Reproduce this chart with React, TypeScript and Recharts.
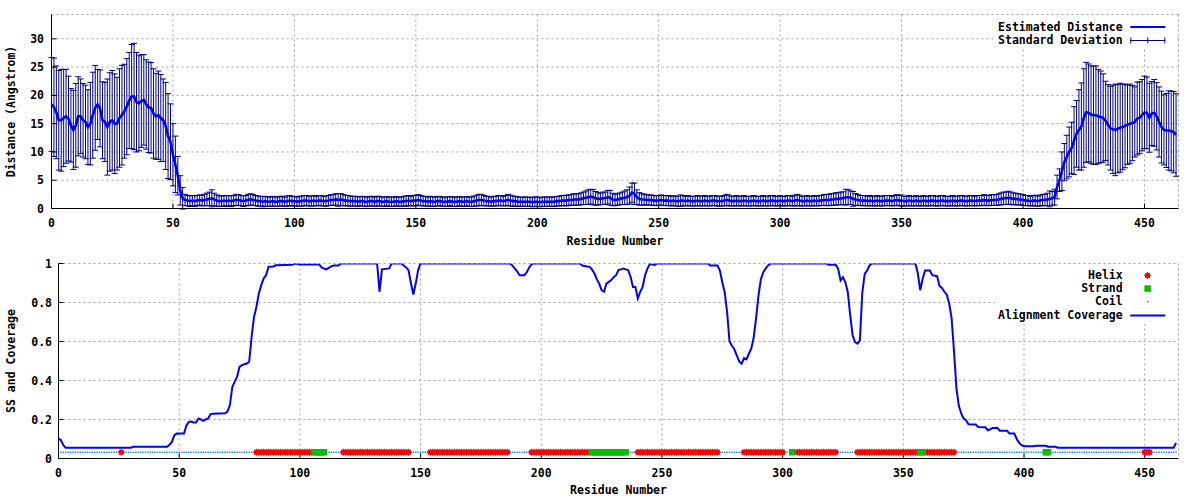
import React from 'react';
import {
  LineChart,
  Line,
  XAxis,
  YAxis,
  CartesianGrid,
  ErrorBar,
  ComposedChart,
  Scatter,
  Legend,
  Label,
} from 'recharts';

const FONT = '"DejaVu Sans Mono", "Liberation Mono", monospace';

// ---------------- data ----------------
const residueCount = 464;
const residueTicks = [0, 50, 100, 150, 200, 250, 300, 350, 400, 450];
const distanceTicks = [0, 5, 10, 15, 20, 25, 30];
const coverageTicks = [0, 0.2, 0.4, 0.6, 0.8, 1];

// estimated distance per residue (Angstrom), residues 0..463
const distMean = [
  18.4, 17.9, 17.0, 15.6, 15.6, 16.0, 16.3, 15.9, 14.7, 13.9,
  14.7, 16.3, 16.3, 15.6, 15.3, 14.4, 15.0, 16.5, 17.8, 18.4,
  17.7, 15.6, 15.3, 14.4, 15.3, 15.6, 15.0, 15.0, 16.0, 16.5,
  17.2, 18.0, 19.1, 19.8, 19.8, 18.8, 18.6, 19.0, 19.2, 18.4,
  17.9, 17.8, 16.8, 16.3, 16.5, 16.0, 15.6, 14.6, 12.8, 11.8,
  9.5, 7.8, 5.8, 3.2, 1.8, 1.5, 1.4, 1.3, 1.4, 1.3,
  1.4, 1.5, 1.4, 1.5, 1.6, 1.7, 1.8, 1.6, 1.4, 1.3,
  1.3, 1.4, 1.3, 1.4, 1.3, 1.4, 1.5, 1.5, 1.4, 1.3,
  1.4, 1.5, 1.6, 1.5, 1.4, 1.3, 1.3, 1.2, 1.3, 1.2,
  1.2, 1.3, 1.2, 1.2, 1.3, 1.3, 1.2, 1.3, 1.4, 1.3,
  1.3, 1.2, 1.3, 1.3, 1.4, 1.4, 1.3, 1.3, 1.4, 1.3,
  1.4, 1.4, 1.3, 1.3, 1.4, 1.5, 1.5, 1.6, 1.5, 1.6,
  1.5, 1.4, 1.4, 1.3, 1.3, 1.3, 1.2, 1.3, 1.3, 1.2,
  1.2, 1.3, 1.3, 1.2, 1.3, 1.3, 1.2, 1.2, 1.3, 1.2,
  1.2, 1.2, 1.3, 1.2, 1.2, 1.3, 1.3, 1.4, 1.3, 1.4,
  1.4, 1.5, 1.4, 1.3, 1.3, 1.2, 1.3, 1.2, 1.2, 1.3,
  1.3, 1.2, 1.2, 1.2, 1.3, 1.2, 1.2, 1.2, 1.3, 1.2,
  1.2, 1.3, 1.2, 1.2, 1.3, 1.4, 1.5, 1.5, 1.4, 1.3,
  1.3, 1.2, 1.3, 1.3, 1.4, 1.4, 1.3, 1.4, 1.5, 1.4,
  1.3, 1.3, 1.2, 1.2, 1.2, 1.2, 1.2, 1.2, 1.1, 1.2,
  1.2, 1.1, 1.2, 1.2, 1.2, 1.2, 1.2, 1.2, 1.3, 1.3,
  1.4, 1.4, 1.4, 1.5, 1.5, 1.6, 1.6, 1.6, 1.7, 1.8,
  1.9, 2.0, 2.1, 2.0, 1.8, 1.7, 1.7, 1.8, 1.8, 2.0,
  1.9, 1.6, 1.5, 1.6, 1.7, 1.8, 1.9, 2.0, 2.3, 2.8,
  2.6, 2.0, 1.7, 1.6, 1.6, 1.5, 1.5, 1.5, 1.4, 1.4,
  1.4, 1.5, 1.4, 1.4, 1.4, 1.3, 1.4, 1.3, 1.3, 1.4,
  1.4, 1.3, 1.4, 1.3, 1.3, 1.3, 1.4, 1.3, 1.3, 1.4,
  1.3, 1.3, 1.4, 1.4, 1.3, 1.3, 1.3, 1.4, 1.5, 1.4,
  1.3, 1.3, 1.4, 1.3, 1.3, 1.4, 1.3, 1.3, 1.3, 1.4,
  1.3, 1.3, 1.3, 1.4, 1.3, 1.3, 1.4, 1.4, 1.3, 1.3,
  1.4, 1.3, 1.3, 1.4, 1.4, 1.3, 1.4, 1.5, 1.4, 1.3,
  1.3, 1.4, 1.3, 1.3, 1.4, 1.3, 1.4, 1.4, 1.5, 1.5,
  1.5, 1.6, 1.6, 1.7, 1.7, 1.8, 1.8, 2.0, 2.0, 1.9,
  1.7, 1.6, 1.5, 1.4, 1.4, 1.4, 1.3, 1.4, 1.3, 1.3,
  1.4, 1.3, 1.3, 1.4, 1.4, 1.4, 1.3, 1.4, 1.5, 1.4,
  1.4, 1.3, 1.3, 1.4, 1.3, 1.3, 1.4, 1.3, 1.3, 1.4,
  1.3, 1.3, 1.4, 1.4, 1.3, 1.3, 1.4, 1.4, 1.3, 1.3,
  1.3, 1.4, 1.3, 1.3, 1.4, 1.4, 1.3, 1.3, 1.4, 1.4,
  1.3, 1.4, 1.4, 1.4, 1.5, 1.4, 1.4, 1.5, 1.5, 1.5,
  1.6, 1.7, 1.8, 1.8, 1.9, 1.8, 1.7, 1.7, 1.6, 1.6,
  1.5, 1.4, 1.4, 1.3, 1.4, 1.4, 1.3, 1.4, 1.5, 1.5,
  1.6, 1.7, 1.8, 2.0, 3.8, 5.0, 6.6, 8.2, 9.1, 10.0,
  10.7, 12.0, 13.2, 13.9, 14.5, 16.0, 17.0, 16.9, 16.6, 16.5,
  16.5, 16.3, 16.2, 16.0, 15.5, 14.8, 14.2, 14.0, 13.9, 14.1,
  14.3, 14.4, 14.6, 14.8, 15.0, 15.1, 15.3, 15.9, 16.05, 16.5,
  17.0, 16.9, 16.05, 16.8, 16.9, 16.3, 15.3, 14.4, 13.9, 13.8,
  13.8, 13.7, 13.5, 13.0,
];

// standard deviation per residue
const distSd = [
  8.3, 8.7, 8.2, 8.8, 9.0, 8.6, 8.3, 7.5, 6.5, 7.0,
  7.4, 7.0, 6.6, 6.5, 6.5, 6.6, 7.3, 7.6, 7.5, 6.2,
  6.8, 6.8, 7.0, 8.5, 8.7, 8.8, 8.8, 8.2, 8.7, 8.8,
  8.3, 8.5, 8.5, 9.2, 9.4, 8.8, 8.4, 8.2, 8.0, 7.9,
  8.0, 8.0, 7.9, 7.6, 7.8, 7.7, 7.3, 7.7, 7.5, 6.7,
  5.5, 5.0, 3.4, 2.6, 1.9, 1.0, 0.9, 0.95, 0.9, 0.95,
  0.9, 0.9, 0.95, 1.0, 1.1, 1.2, 1.5, 1.1, 1.0, 0.95,
  0.9, 0.9, 0.95, 0.9, 0.95, 0.9, 1.0, 0.95, 0.9, 0.95,
  0.9, 1.0, 1.0, 0.95, 0.9, 0.9, 0.85, 0.9, 0.85, 0.85,
  0.8, 0.85, 0.85, 0.8, 0.85, 0.85, 0.8, 0.9, 0.9, 0.85,
  0.85, 0.8, 0.85, 0.9, 0.9, 0.9, 0.85, 0.9, 0.9, 0.85,
  0.9, 0.9, 0.85, 0.9, 0.9, 0.95, 0.95, 1.0, 1.1, 1.05,
  1.0, 0.95, 0.9, 0.9, 0.85, 0.85, 0.85, 0.8, 0.85, 0.85,
  0.8, 0.85, 0.85, 0.8, 0.85, 0.85, 0.8, 0.85, 0.8, 0.8,
  0.85, 0.8, 0.8, 0.8, 0.8, 0.85, 0.9, 0.9, 0.85, 0.9,
  0.95, 0.95, 0.9, 0.85, 0.85, 0.8, 0.85, 0.85, 0.8, 0.85,
  0.8, 0.8, 0.8, 0.85, 0.8, 0.85, 0.8, 0.85, 0.8, 0.8,
  0.85, 0.8, 0.8, 0.85, 0.9, 0.95, 1.0, 1.0, 0.9, 0.85,
  0.85, 0.8, 0.85, 0.85, 0.9, 0.9, 0.85, 0.9, 1.0, 0.95,
  0.9, 0.85, 0.85, 0.8, 0.8, 0.85, 0.8, 0.8, 0.8, 0.85,
  0.85, 0.8, 0.8, 0.85, 0.8, 0.85, 0.8, 0.85, 0.85, 0.85,
  0.9, 0.9, 0.95, 0.9, 0.95, 1.0, 1.0, 1.0, 1.05, 1.1,
  1.2, 1.3, 1.3, 1.35, 1.2, 1.1, 1.0, 1.1, 1.1, 1.2,
  1.3, 1.1, 1.0, 1.0, 1.05, 1.1, 1.2, 1.3, 1.5, 1.7,
  1.9, 1.3, 1.1, 1.0, 0.95, 0.9, 0.9, 0.9, 0.85, 0.9,
  0.85, 0.9, 0.9, 0.85, 0.9, 0.85, 0.85, 0.85, 0.9, 1.0,
  0.9, 0.85, 0.9, 0.85, 0.85, 0.85, 0.9, 0.85, 0.85, 0.9,
  0.85, 0.85, 0.9, 0.9, 0.85, 0.9, 0.85, 0.9, 1.0, 0.95,
  0.85, 0.85, 0.9, 0.85, 0.85, 0.9, 0.85, 0.85, 0.85, 0.9,
  0.85, 0.85, 0.85, 0.9, 0.85, 0.85, 0.9, 0.9, 0.85, 0.85,
  0.9, 0.85, 0.85, 0.9, 0.9, 0.85, 0.95, 1.0, 0.95, 0.85,
  0.85, 0.9, 0.85, 0.85, 0.9, 0.85, 0.9, 0.9, 0.95, 1.0,
  1.0, 1.05, 1.0, 1.1, 1.05, 1.1, 1.15, 1.4, 1.3, 1.2,
  1.3, 1.05, 0.95, 0.9, 0.9, 0.9, 0.85, 0.9, 0.85, 0.85,
  0.9, 0.85, 0.85, 0.9, 0.9, 0.9, 0.85, 0.9, 0.95, 0.9,
  1.0, 0.85, 0.85, 0.9, 0.85, 0.85, 0.9, 0.85, 0.85, 0.9,
  0.85, 0.85, 0.9, 0.9, 0.85, 0.85, 0.9, 0.9, 0.85, 0.85,
  0.85, 0.9, 0.85, 0.85, 0.9, 0.9, 0.85, 0.85, 0.9, 0.9,
  0.85, 0.9, 0.9, 0.9, 0.95, 0.9, 0.9, 0.95, 0.95, 0.95,
  1.0, 1.05, 1.1, 1.1, 1.15, 1.1, 1.05, 1.0, 1.0, 0.95,
  0.95, 0.9, 0.9, 0.85, 0.9, 0.95, 0.9, 0.95, 1.0, 1.0,
  1.1, 1.4, 1.2, 1.4, 2.1, 2.0, 3.4, 3.3, 3.85, 4.4,
  4.55, 6.0, 5.9, 7.1, 7.7, 8.7, 8.85, 8.65, 8.6, 8.7,
  8.7, 8.3, 8.1, 7.8, 7.0, 7.1, 7.4, 7.8, 8.1, 7.8,
  7.85, 7.55, 7.4, 7.0, 7.0, 6.65, 6.2, 6.45, 6.35, 6.3,
  6.4, 6.35, 6.1, 5.65, 5.9, 5.95, 6.2, 6.35, 6.2, 6.55,
  7.0, 7.05, 7.2, 7.3,
];

// alignment coverage: [residue, fraction]
const coveragePoints: [number, number][] = [
  [0, 0.103], [1, 0.094], [2, 0.068], [3, 0.055], [30, 0.055], [31, 0.06], [45, 0.06],
  [46, 0.07], [47, 0.085], [48, 0.12], [49, 0.128], [52, 0.128], [53, 0.17], [54, 0.188],
  [55, 0.19], [56, 0.185], [57, 0.185], [58, 0.205], [59, 0.2], [60, 0.193], [61, 0.2],
  [62, 0.205], [63, 0.227], [64, 0.23], [69, 0.232], [70, 0.24], [71, 0.273], [72, 0.367],
  [73, 0.393], [74, 0.42], [75, 0.47], [76, 0.479], [78, 0.487], [79, 0.496], [80, 0.624],
  [81, 0.726], [82, 0.778], [83, 0.846], [84, 0.889], [85, 0.923], [86, 0.94], [87, 0.983],
  [89, 0.985], [90, 0.991], [97, 0.993], [98, 1.0], [100, 0.995], [108, 0.995], [109, 0.98],
  [110, 0.974], [111, 0.97], [112, 0.978], [113, 0.985], [114, 0.99], [116, 0.99], [117, 1.0],
  [132, 1.0], [133, 0.855], [134, 0.97], [137, 0.975], [138, 1.0], [142, 1.0], [143, 0.99],
  [144, 0.98], [145, 0.966], [146, 0.9], [147, 0.841], [148, 0.897], [149, 0.966], [150, 1.0],
  [187, 1.0], [188, 0.99], [189, 0.975], [190, 0.96], [191, 0.94], [193, 0.94], [194, 0.955],
  [195, 0.98], [196, 0.997], [197, 1.0], [216, 1.0], [217, 0.99], [219, 0.985], [220, 0.983],
  [221, 0.97], [222, 0.95], [223, 0.92], [224, 0.897], [225, 0.863], [226, 0.855], [227, 0.897],
  [228, 0.906], [229, 0.915], [230, 0.93], [231, 0.94], [232, 0.966], [233, 0.97], [234, 0.974],
  [235, 0.97], [236, 0.966], [237, 0.932], [238, 0.88], [239, 0.88], [240, 0.82], [241, 0.855],
  [242, 0.88], [243, 0.94], [244, 0.974], [245, 0.997], [247, 0.993], [248, 1.0], [269, 1.0],
  [270, 0.99], [273, 0.99], [274, 0.964], [275, 0.904], [276, 0.853], [277, 0.75], [278, 0.6],
  [279, 0.578], [280, 0.56], [281, 0.529], [282, 0.498], [283, 0.486], [284, 0.515], [285, 0.508],
  [286, 0.537], [287, 0.563], [288, 0.62], [289, 0.72], [290, 0.836], [291, 0.92], [292, 0.955],
  [293, 0.975], [294, 0.99], [295, 1.0], [318, 1.0], [319, 0.993], [322, 0.993], [323, 0.973],
  [324, 0.913], [325, 0.93], [326, 0.904], [327, 0.853], [328, 0.734], [329, 0.631], [330, 0.597],
  [331, 0.589], [332, 0.606], [333, 0.85], [334, 0.947], [335, 0.964], [336, 0.99], [337, 1.0],
  [355, 1.0], [356, 0.95], [357, 0.863], [358, 0.92], [359, 0.964], [361, 0.964], [362, 0.94],
  [364, 0.935], [365, 0.884], [366, 0.875], [367, 0.855], [368, 0.84], [369, 0.795], [370, 0.72],
  [371, 0.55], [372, 0.36], [373, 0.27], [374, 0.23], [375, 0.205], [376, 0.196], [377, 0.176],
  [380, 0.174], [381, 0.162], [384, 0.16], [385, 0.145], [386, 0.15], [387, 0.157], [389, 0.157],
  [390, 0.142], [393, 0.142], [394, 0.128], [396, 0.128], [397, 0.1], [398, 0.08], [399, 0.068],
  [400, 0.063], [404, 0.063], [405, 0.065], [409, 0.065], [410, 0.06], [413, 0.06], [414, 0.055],
  [462, 0.055], [463, 0.08],
];

// secondary structure (residue ranges, inclusive)
const helixRanges: [number, number][] = [
  [26, 26], [82, 105], [118, 145], [154, 186], [196, 220], [240, 273],
  [284, 300], [306, 322], [331, 356], [359, 371], [450, 452],
];
const strandRanges: [number, number][] = [
  [106, 110], [221, 235], [304, 304], [357, 358], [409, 410],
];
const ssLevel = 0.032;

// ---------------- derived tables ----------------
const distData = distMean.map((d, i) => ({ r: i, dist: d, sd: distSd[i] }));
const coverageData = coveragePoints.map(([r, v]) => ({ r, cov: v }));
const inRanges = (r: number, ranges: [number, number][]) =>
  ranges.some(([a, b]) => r >= a && r <= b);
const residues = Array.from({ length: residueCount }, (_, i) => i);
const helixData = residues.filter((r) => inRanges(r, helixRanges)).map((r) => ({ r, y: ssLevel }));
const strandData = residues.filter((r) => inRanges(r, strandRanges)).map((r) => ({ r, y: ssLevel }));
const coilData = residues
  .filter((r) => !inRanges(r, helixRanges) && !inRanges(r, strandRanges))
  .map((r) => ({ r, y: ssLevel }));

// ---------------- styles ----------------
const tickStyle = { fontSize: 11.5, fontFamily: FONT, fontWeight: 'bold', fill: '#000' } as any;
const GRID = '#a0a0a0';
const BAR_COLOR = '#00008b';
const LINE_COLOR = '#0000ff';
const HELIX_COLOR = '#ff0000';
const STRAND_COLOR = '#00c000';
const COIL_COLOR = '#0080ff';

const EmptyTick = () => <g />;

const helixPath = (cx: number, cy: number) =>
  `M${cx - 2.5},${cy - 2.5}h5v5h-5z M${cx - 0.5},${cy - 3.5}h1v7h-1z M${cx - 3.5},${cy - 0.5}h7v1h-7z`;

const HelixShape = (p: any) =>
  p.cx == null ? <g /> : <path d={helixPath(p.cx, p.cy)} fill={HELIX_COLOR} />;
const StrandShape = (p: any) =>
  p.cx == null ? <g /> : <rect x={p.cx - 3.25} y={p.cy - 3.25} width={6.5} height={6.5} fill={STRAND_COLOR} />;
const CoilShape = (p: any) =>
  p.cx == null ? <g /> : <rect x={p.cx - 0.7} y={p.cy - 0.7} width={1.4} height={1.4} fill={COIL_COLOR} />;

const rowStyle: React.CSSProperties = { display: 'flex', alignItems: 'center', height: 13.2 };
const labelStyle: React.CSSProperties = {
  width: 127.7,
  textAlign: 'right',
  whiteSpace: 'nowrap',
  fontFamily: FONT,
  fontWeight: 'bold',
  fontSize: 11.5,
  lineHeight: '13px',
  color: '#000',
};

const LegendRow = ({ label, children }: { label: string; children: React.ReactNode }) => (
  <div style={rowStyle}>
    <div style={labelStyle}>{label}</div>
    <svg width={50} height={13} style={{ display: 'block' }}>
      {children}
    </svg>
  </div>
);

const TopLegend = () => (
  <div style={{ background: '#fff', width: 182, paddingTop: 5.5, paddingBottom: 1 }}>
    <LegendRow label="Estimated Distance">
      <line x1={7.3} x2={42.3} y1={6} y2={6} stroke={LINE_COLOR} strokeWidth={2} />
    </LegendRow>
    <LegendRow label="Standard Deviation">
      <line x1={7.3} x2={42.3} y1={6.5} y2={6.5} stroke={BAR_COLOR} strokeWidth={1} />
      <line x1={7.8} x2={7.8} y1={3.5} y2={9.5} stroke={BAR_COLOR} strokeWidth={1} />
      <line x1={41.8} x2={41.8} y1={3.5} y2={9.5} stroke={BAR_COLOR} strokeWidth={1} />
      <line x1={24.8} x2={24.8} y1={3.5} y2={9.5} stroke={BAR_COLOR} strokeWidth={1} />
    </LegendRow>
  </div>
);

const BottomLegend = () => (
  <div style={{ background: '#fff', width: 182, paddingTop: 5, paddingBottom: 2 }}>
    <LegendRow label="Helix">
      <path d={helixPath(24.6, 6.5)} fill={HELIX_COLOR} />
    </LegendRow>
    <LegendRow label="Strand">
      <rect x={21.4} y={3.3} width={6.5} height={6.5} fill={STRAND_COLOR} />
    </LegendRow>
    <LegendRow label="Coil">
      <rect x={24} y={6} width={1.4} height={1.4} fill={COIL_COLOR} />
    </LegendRow>
    <LegendRow label="Alignment Coverage">
      <line x1={7.3} x2={42.3} y1={6.5} y2={6.5} stroke={LINE_COLOR} strokeWidth={2} />
    </LegendRow>
  </div>
);

const titleStyle = { fontFamily: FONT, fontWeight: 'bold', fontSize: 11.5, fill: '#000' } as any;

const YTitle = ({ text, cy }: { text: string; cy: number }) => (
  <text
    x={11}
    y={cy}
    transform={`rotate(-90 11 ${cy})`}
    textAnchor="middle"
    dominantBaseline="central"
    {...titleStyle}
  >
    {text}
  </text>
);

const XTitle = ({ text, cx, cy }: { text: string; cx: number; cy: number }) => (
  <text x={cx} y={cy} textAnchor="middle" dominantBaseline="central" {...titleStyle}>
    {text}
  </text>
);

export default function App() {
  return (
    <div style={{ position: 'absolute', left: 0, top: 0, width: 1200, height: 500, background: '#fff' }}>
      <div style={{ position: 'absolute', left: 0, top: 0 }}>
        <LineChart
          width={1200}
          height={250}
          data={distData}
          margin={{ top: 14.5, right: 21.5, bottom: 11.5, left: 11.5 }}
        >
          <CartesianGrid stroke={GRID} strokeDasharray="2 3" />
          <XAxis
            dataKey="r"
            type="number"
            domain={[0, residueCount]}
            ticks={residueTicks}
            interval={0}
            allowDataOverflow
            height={30}
            tickSize={-5}
            tickMargin={15}
            tick={tickStyle}
            stroke="#000"
          >
            <Label content={() => <XTitle text="Residue Number" cx={615} cy={240.7} />} />
          </XAxis>
          <XAxis
            xAxisId="top"
            orientation="top"
            dataKey="r"
            type="number"
            domain={[0, residueCount]}
            ticks={residueTicks}
            interval={0}
            allowDataOverflow
            height={0}
            tickSize={-5}
            tick={EmptyTick}
            stroke="#000"
          />
          <YAxis
            type="number"
            domain={[0, 34.3]}
            ticks={distanceTicks}
            interval={0}
            allowDataOverflow
            width={40}
            tickSize={-5}
            tickMargin={12.5}
            tick={tickStyle}
            stroke="#000"
          >
            <Label content={() => <YTitle text="Distance (Angstrom)" cy={111.5} />} />
          </YAxis>
          <YAxis
            yAxisId="right"
            orientation="right"
            type="number"
            domain={[0, 34.3]}
            ticks={distanceTicks}
            interval={0}
            allowDataOverflow
            width={0}
            tickSize={-5}
            tick={EmptyTick}
            stroke="#000"
          />
          <Line
            dataKey="dist"
            stroke="none"
            dot={false}
            activeDot={false}
            isAnimationActive={false}
            legendType="none"
          >
            <ErrorBar dataKey="sd" width={3} stroke={BAR_COLOR} strokeWidth={1} direction="y" isAnimationActive={false} />
          </Line>
          <Line
            dataKey="dist"
            stroke={LINE_COLOR}
            strokeWidth={2.6}
            dot={false}
            activeDot={false}
            isAnimationActive={false}
          />
          <Legend
            layout="vertical"
            align="center"
            verticalAlign="middle"
            content={() => <TopLegend />}
            wrapperStyle={{ top: 15, left: 995, width: 182 }}
          />
        </LineChart>
      </div>

      <div style={{ position: 'absolute', left: 0, top: 250 }}>
        <ComposedChart
          width={1200}
          height={250}
          margin={{ top: 13.5, right: 21.5, bottom: 11.5, left: 18.5 }}
        >
          <CartesianGrid stroke={GRID} strokeDasharray="2 3" />
          <XAxis
            dataKey="r"
            type="number"
            domain={[0, residueCount]}
            ticks={residueTicks}
            interval={0}
            allowDataOverflow
            height={30}
            tickSize={-5}
            tickMargin={15}
            tick={tickStyle}
            stroke="#000"
          >
            <Label content={() => <XTitle text="Residue Number" cx={618.5} cy={240} />} />
          </XAxis>
          <XAxis
            xAxisId="top"
            orientation="top"
            dataKey="r"
            type="number"
            domain={[0, residueCount]}
            ticks={residueTicks}
            interval={0}
            allowDataOverflow
            height={0}
            tickSize={-5}
            tick={EmptyTick}
            stroke="#000"
          />
          <YAxis
            type="number"
            domain={[0, 1]}
            ticks={coverageTicks}
            interval={0}
            allowDataOverflow
            width={40}
            tickSize={-5}
            tickMargin={11.5}
            tick={tickStyle}
            stroke="#000"
          >
            <Label content={() => <YTitle text="SS and Coverage" cy={111} />} />
          </YAxis>
          <YAxis
            yAxisId="right"
            orientation="right"
            type="number"
            domain={[0, 1]}
            ticks={coverageTicks}
            interval={0}
            allowDataOverflow
            width={0}
            tickSize={-5}
            tick={EmptyTick}
            stroke="#000"
          />
          <Scatter data={coilData} dataKey="y" shape={CoilShape} isAnimationActive={false} />
          <Scatter data={helixData} dataKey="y" shape={HelixShape} isAnimationActive={false} />
          <Scatter data={strandData} dataKey="y" shape={StrandShape} isAnimationActive={false} />
          <Line
            data={coverageData}
            dataKey="cov"
            stroke={LINE_COLOR}
            strokeWidth={2}
            dot={false}
            activeDot={false}
            isAnimationActive={false}
          />
          <Legend
            layout="vertical"
            align="center"
            verticalAlign="middle"
            content={() => <BottomLegend />}
            wrapperStyle={{ top: 14, left: 995, width: 182 }}
          />
        </ComposedChart>
      </div>
    </div>
  );
}
